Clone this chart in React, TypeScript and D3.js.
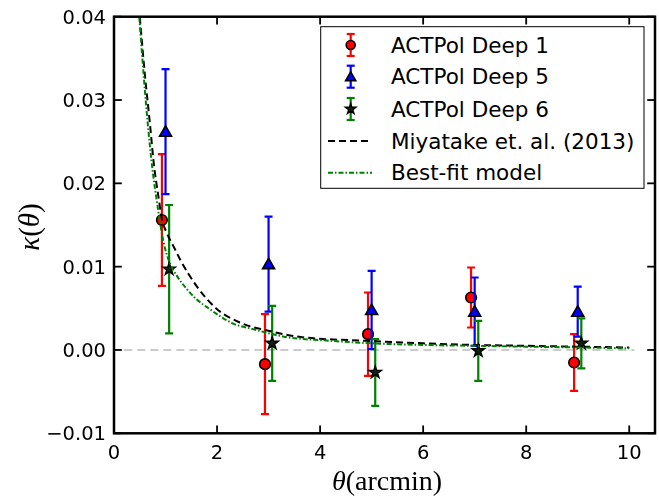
import React, { useEffect, useRef } from 'react';
import * as d3 from 'd3';

// angular bin centres (arcmin) for each field, slightly offset as in the figure
const deep1X = [0.93, 2.93, 4.93, 6.93, 8.93];
const deep1Y = [0.0156, -0.0017, 0.0019, 0.0063, -0.0015];
const deep1Err = [0.0079, 0.006, 0.005, 0.0036, 0.0034];

const deep5X = [1.0, 3.0, 5.0, 7.0, 9.0];
const deep5Y = [0.0262, 0.0103, 0.0048, 0.0046, 0.0046];
const deep5Err = [0.0075, 0.0057, 0.0047, 0.0041, 0.003];

const deep6X = [1.07, 3.07, 5.07, 7.07, 9.07];
const deep6Y = [0.0097, 0.0008, -0.0027, -0.0001, 0.0008];
const deep6Err = [0.0077, 0.0045, 0.004, 0.0036, 0.003];

// model curves, sampled off the plot
const miyatake: [number, number][] = [
  [0.5, 0.040], [0.6, 0.033], [0.7, 0.027], [0.77, 0.0225], [0.86, 0.0185],
  [0.93, 0.0157], [1.02, 0.0141], [1.15, 0.0125], [1.28, 0.0109], [1.6, 0.0077],
  [2.0, 0.0049], [2.44, 0.0033], [3.0, 0.0023], [3.7, 0.0015], [4.9, 0.0011],
  [6.0, 0.0008], [7.0, 0.0006], [8.0, 0.0005], [9.0, 0.0004], [10.0, 0.0003],
];
const bestFit: [number, number][] = [
  [0.49, 0.040], [0.55, 0.035], [0.65, 0.0275], [0.75, 0.0215], [0.84, 0.0175],
  [0.96, 0.013], [1.1, 0.0102], [1.21, 0.009], [1.4, 0.0074], [1.6, 0.0061],
  [1.86, 0.0049], [2.3, 0.0032], [2.7, 0.0025], [3.3, 0.0016], [4.2, 0.0011],
  [5.0, 0.0008], [6.0, 0.0006], [7.0, 0.0005], [8.0, 0.0004], [9.0, 0.0003], [10.0, 0.0002],
];

const xTicks = [0, 2, 4, 6, 8, 10];
const yTicks = [-0.01, 0, 0.01, 0.02, 0.03, 0.04];
const legendLabels = ['ACTPol Deep 1', 'ACTPol Deep 5', 'ACTPol Deep 6', 'Miyatake et. al. (2013)', 'Best-fit model'];

const FONT = "'DejaVu Sans', sans-serif";

export default function App() {
  const svgRef = useRef<SVGSVGElement>(null);

  useEffect(() => {
    if (!svgRef.current) return;
    const width = 659;
    const height = 496;
    const svg = d3.select(svgRef.current).attr('width', width).attr('height', height);
    svg.selectAll('*').remove();

    const x = d3.scaleLinear().domain([0, 10.5]).range([114, 655]);
    const y = d3.scaleLinear().domain([-0.01, 0.04]).range([433.3, 16.7]);

    const defs = svg.append('defs');
    defs.append('clipPath').attr('id', 'plot-clip')
      .append('rect').attr('x', 114).attr('y', 16.7).attr('width', 541).attr('height', 416.6);

    const plot = svg.append('g').attr('clip-path', 'url(#plot-clip)');

    // zero line
    plot.append('line')
      .attr('x1', x(0.2)).attr('x2', x(10.1))
      .attr('y1', y(0)).attr('y2', y(0))
      .attr('stroke', '#bbbbbb').attr('stroke-width', 1.5)
      .attr('stroke-dasharray', '8 5');

    const series = [
      { xs: deep1X, ys: deep1Y, es: deep1Err, color: '#ff0000', marker: 'circle' },
      { xs: deep5X, ys: deep5Y, es: deep5Err, color: '#0000ff', marker: 'triangle' },
      { xs: deep6X, ys: deep6Y, es: deep6Err, color: '#008000', marker: 'star' },
    ];

    const drawMarker = (g: any, kind: string, cx: number, cy: number, k = 1) => {
      if (kind === 'circle') {
        g.append('circle').attr('cx', cx).attr('cy', cy).attr('r', 5.3 * k)
          .attr('fill', '#ff0000').attr('stroke', '#000').attr('stroke-width', 1.6);
      } else if (kind === 'triangle') {
        g.append('path').attr('d', d3.symbol(d3.symbolTriangle, 62 * k * k)())
          .attr('transform', `translate(${cx},${cy + 1})`)
          .attr('fill', '#0000ff').attr('stroke', '#000').attr('stroke-width', 1.6);
      } else {
        g.append('path').attr('d', d3.symbol(d3.symbolStar, 50 * k * k)())
          .attr('transform', `translate(${cx},${cy})`)
          .attr('fill', '#112211').attr('stroke', '#000').attr('stroke-width', 1.3);
      }
    };

    const drawErrorBar = (g: any, color: string, cx: number, yTop: number, yBot: number) => {
      g.append('line').attr('x1', cx).attr('x2', cx).attr('y1', yTop).attr('y2', yBot)
        .attr('stroke', color).attr('stroke-width', 2.2);
      [yTop, yBot].forEach((yy) => {
        g.append('line').attr('x1', cx - 4).attr('x2', cx + 4).attr('y1', yy).attr('y2', yy)
          .attr('stroke', color).attr('stroke-width', 2.2);
      });
    };

    series.forEach((s) => {
      const g = plot.append('g');
      s.xs.forEach((xv, i) => {
        drawErrorBar(g, s.color, x(xv), y(s.ys[i] + s.es[i]), y(s.ys[i] - s.es[i]));
        drawMarker(g, s.marker, x(xv), y(s.ys[i]));
      });
    });

    const line = d3.line<[number, number]>()
      .x((d) => x(d[0])).y((d) => y(d[1]))
      .curve(d3.curveMonotoneX);

    plot.append('path').datum(miyatake).attr('d', line)
      .attr('fill', 'none').attr('stroke', '#000').attr('stroke-width', 2)
      .attr('stroke-dasharray', '7 4');
    plot.append('path').datum(bestFit).attr('d', line)
      .attr('fill', 'none').attr('stroke', '#008000').attr('stroke-width', 2)
      .attr('stroke-dasharray', '5 2 1.5 2');

    // frame and inward ticks on all sides
    const frame = svg.append('g');
    frame.append('rect').attr('x', 114).attr('y', 16.7).attr('width', 541).attr('height', 416.6)
      .attr('fill', 'none').attr('stroke', '#000').attr('stroke-width', 2.5);

    xTicks.forEach((t) => {
      frame.append('line').attr('x1', x(t)).attr('x2', x(t)).attr('y1', 433.3).attr('y2', 425.5)
        .attr('stroke', '#000').attr('stroke-width', 1.8);
      frame.append('line').attr('x1', x(t)).attr('x2', x(t)).attr('y1', 16.7).attr('y2', 24.5)
        .attr('stroke', '#000').attr('stroke-width', 1.8);
      frame.append('text').attr('x', x(t)).attr('y', 459)
        .attr('text-anchor', 'middle').attr('font-family', FONT).attr('font-size', 19.5)
        .text(String(t));
    });

    yTicks.forEach((t) => {
      frame.append('line').attr('x1', 114).attr('x2', 121.8).attr('y1', y(t)).attr('y2', y(t))
        .attr('stroke', '#000').attr('stroke-width', 1.8);
      frame.append('line').attr('x1', 655).attr('x2', 647.2).attr('y1', y(t)).attr('y2', y(t))
        .attr('stroke', '#000').attr('stroke-width', 1.8);
      frame.append('text').attr('x', 106).attr('y', y(t)).attr('dy', '0.36em')
        .attr('text-anchor', 'end').attr('font-family', FONT).attr('font-size', 19.5)
        .text(d3.format('.2f')(t).replace('-', '\u2212'));
    });

    // axis titles
    const xl = svg.append('text').attr('x', 387).attr('y', 490)
      .attr('text-anchor', 'middle').attr('font-family', "'Liberation Serif', serif").attr('font-size', 28);
    xl.append('tspan').attr('font-style', 'italic').text('θ');
    xl.append('tspan').text('(arcmin)');

    const yl = svg.append('text').attr('transform', 'translate(39,227) rotate(-90)')
      .attr('text-anchor', 'middle').attr('font-family', "'Liberation Serif', serif").attr('font-size', 29);
    yl.append('tspan').attr('font-style', 'italic').text('κ');
    yl.append('tspan').text('(');
    yl.append('tspan').attr('font-style', 'italic').text('θ');
    yl.append('tspan').text(')');

    // legend
    const lg = svg.append('g');
    lg.append('rect').attr('x', 320.7).attr('y', 26.7).attr('width', 323.3).attr('height', 161.6)
      .attr('fill', '#fff').attr('stroke', '#000').attr('stroke-width', 1);
    const rowY = [45, 76.7, 109, 141, 172.7];
    legendLabels.forEach((label, i) => {
      const ry = rowY[i];
      if (i < 3) {
        drawErrorBar(lg, series[i].color, 350.7, ry - 11, ry + 11);
        drawMarker(lg, series[i].marker, 350.7, ry, 0.85);
      } else if (i === 3) {
        lg.append('line').attr('x1', 328).attr('x2', 372).attr('y1', ry).attr('y2', ry)
          .attr('stroke', '#000').attr('stroke-width', 2).attr('stroke-dasharray', '7 4');
      } else {
        lg.append('line').attr('x1', 328).attr('x2', 372).attr('y1', ry).attr('y2', ry)
          .attr('stroke', '#008000').attr('stroke-width', 2).attr('stroke-dasharray', '5 2 1.5 2');
      }
      lg.append('text').attr('x', 391).attr('y', ry).attr('dy', '0.36em')
        .attr('font-family', FONT).attr('font-size', 21.5).text(label);
    });
  }, []);

  return (
    <div style={{ position: 'fixed', left: 0, top: 0 }}>
      <svg ref={svgRef} style={{ display: 'block' }} />
    </div>
  );
}
